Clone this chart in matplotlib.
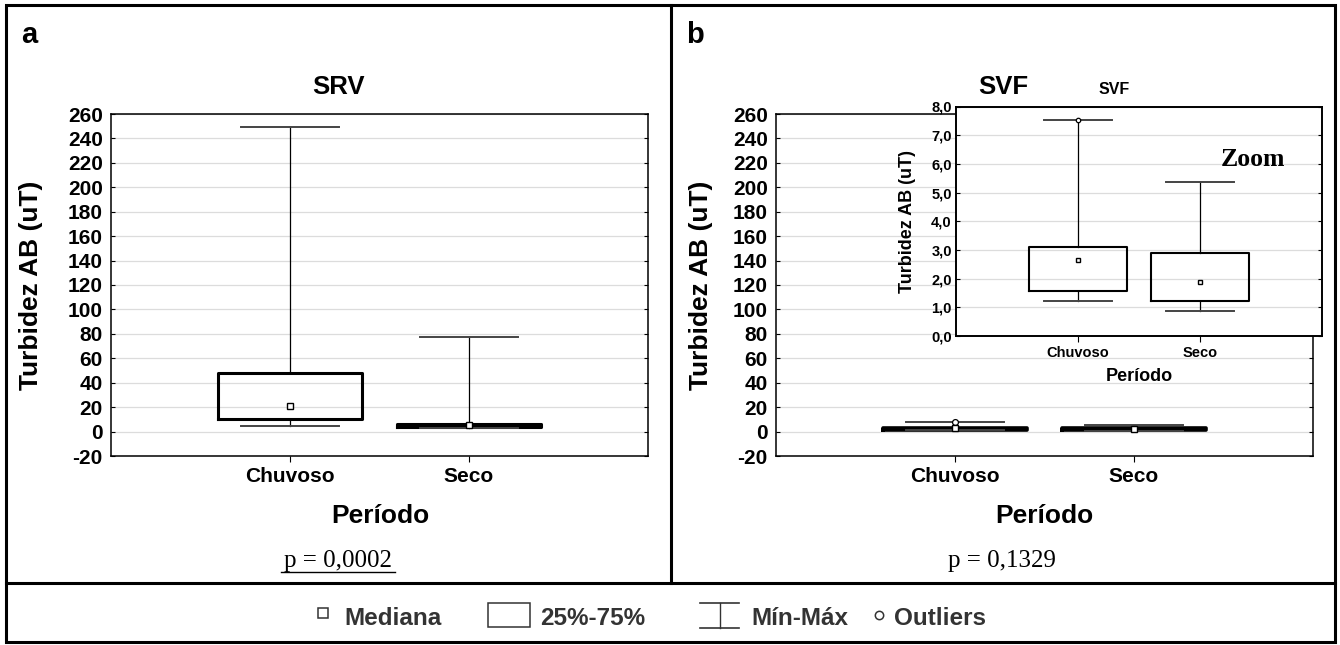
import numpy as np
import matplotlib
matplotlib.use("Agg")
import matplotlib.pyplot as plt
from matplotlib.lines import Line2D
from matplotlib.patches import Rectangle
from matplotlib.ticker import FuncFormatter, MultipleLocator

plt.rcParams["axes.unicode_minus"] = False

# --------------------------------------------------------------------------
# data
# --------------------------------------------------------------------------
categories = ["Chuvoso", "Seco"]

# (a) SRV
srv_min = [4.4, 3.0]
srv_q1 = [10.7, 3.8]
srv_med = [21.3, 5.4]
srv_q3 = [47.6, 6.6]
srv_max = [249.5, 77.7]
srv_out = [[], []]

# (b) SVF  (main panel and zoom inset show the same values)
svf_min = [1.23, 0.87]
svf_q1 = [1.56, 1.21]
svf_med = [2.65, 1.87]
svf_q3 = [3.09, 2.88]
svf_max = [7.53, 5.38]
svf_out = [[7.53], []]

main_yticks = list(range(-20, 261, 20))
p_values = ["p = 0,0002", "p = 0,1329"]

SANS = "Liberation Sans"
SERIF = "Liberation Serif"
W, H = 1340, 645


def rect(l, t, r, b):
    return [l / W, 1 - b / H, (r - l) / W, (b - t) / H]


def fx(x):
    return x / W


def fy(y):
    return 1 - y / H


def stats(mins, q1, med, q3, maxs, outs):
    return [dict(whislo=a, q1=b, med=c, mean=c, q3=d, whishi=e, fliers=f, label=lab)
            for a, b, c, d, e, f, lab in zip(mins, q1, med, q3, maxs, outs, categories)]


def draw_box(ax, st, box_lw, ms, cap_lw):
    ax.bxp(st, positions=[1, 2], widths=0.8, capwidths=0.55, showmeans=True,
           boxprops=dict(linewidth=box_lw, color="black"),
           whiskerprops=dict(linewidth=0.9, color="black"),
           capprops=dict(linewidth=cap_lw, color="#444444"),
           medianprops=dict(linewidth=0),
           meanprops=dict(marker="s", markerfacecolor="white", markeredgecolor="black",
                          markersize=ms, markeredgewidth=1.0),
           flierprops=dict(marker="o", markerfacecolor="white", markeredgecolor="black",
                           markersize=ms, markeredgewidth=0.9))
    ax.set_xlim(0, 3)


def style_axes(ax, tick_size, pad_y, pad_x, spine_lw):
    ax.grid(axis="y", color="#dcdcdc", linewidth=0.9)
    ax.set_axisbelow(True)
    for s in ax.spines.values():
        s.set_linewidth(spine_lw)
    ax.tick_params(axis="y", direction="in", left=True, right=True, length=3,
                   width=0.8, pad=pad_y, labelsize=tick_size)
    ax.tick_params(axis="x", direction="out", top=False, length=4, width=0.8,
                   pad=pad_x, labelsize=tick_size)
    for lab in ax.get_xticklabels() + ax.get_yticklabels():
        lab.set_fontweight("bold")
        lab.set_fontfamily(SANS)


fig = plt.figure(figsize=(W / 100, H / 100), dpi=100)

# ---------------- panel a ----------------
ax_a = fig.add_axes(rect(111, 114, 648, 456))
draw_box(ax_a, stats(srv_min, srv_q1, srv_med, srv_q3, srv_max, srv_out), 2.2, 4.2, 1.4)
ax_a.set_ylim(-20, 260)
ax_a.set_yticks(main_yticks)
style_axes(ax_a, 15, 6, 4, 1.1)
ax_a.set_ylabel("Turbidez AB (uT)", fontsize=19, fontweight="bold", family=SANS)
ax_a.yaxis.set_label_coords(-0.127, 0.5)

# ---------------- panel b ----------------
ax_b = fig.add_axes(rect(776, 114, 1313, 456))
draw_box(ax_b, stats(svf_min, svf_q1, svf_med, svf_q3, svf_max, svf_out), 2.6, 4.2, 1.4)
ax_b.set_ylim(-20, 260)
ax_b.set_yticks(main_yticks)
style_axes(ax_b, 15, 6, 4, 1.1)
ax_b.set_ylabel("Turbidez AB (uT)", fontsize=19, fontweight="bold", family=SANS)
ax_b.yaxis.set_label_coords(-0.117, 0.5)

# ---------------- zoom inset ----------------
ax_in = fig.add_axes(rect(956, 106.5, 1322, 336), zorder=5)
ax_in.set_facecolor("white")
draw_box(ax_in, stats(svf_min, svf_q1, svf_med, svf_q3, svf_max, svf_out), 1.5, 3.2, 1.4)
ax_in.set_ylim(0, 8)
ax_in.yaxis.set_major_locator(MultipleLocator(1))
ax_in.yaxis.set_major_formatter(FuncFormatter(lambda v, _: f"{v:.1f}".replace(".", ",")))
style_axes(ax_in, 10.5, 3, 3, 1.4)
ax_in.set_ylabel("Turbidez AB (uT)", fontsize=13, fontweight="bold", family=SANS)
ax_in.yaxis.set_label_coords(-0.109, 0.5)
ax_in.text(0.81, 0.77, "Zoom", transform=ax_in.transAxes, ha="center", va="center",
           fontsize=18.5, fontweight="bold", family=SERIF)

# ---------------- figure texts ----------------
fig.text(fx(21), fy(43), "a", fontsize=21, fontweight="bold", family=SANS, va="baseline")
fig.text(fx(686), fy(43), "b", fontsize=21, fontweight="bold", family=SANS, va="baseline")
fig.text(fx(338), fy(94), "SRV", fontsize=18.5, fontweight="bold", family=SANS,
         ha="center", va="baseline")
fig.text(fx(1003), fy(94), "SVF", fontsize=18.5, fontweight="bold", family=SANS,
         ha="center", va="baseline")
fig.text(fx(1114), fy(94), "SVF", fontsize=11.5, fontweight="bold", family=SANS,
         ha="center", va="baseline", zorder=6)
fig.text(fx(380), fy(523), "Período", fontsize=19, fontweight="bold", family=SANS,
         ha="center", va="baseline")
fig.text(fx(1044), fy(523), "Período", fontsize=19, fontweight="bold", family=SANS,
         ha="center", va="baseline")
fig.text(fx(1139), fy(381), "Período", fontsize=13, fontweight="bold", family=SANS,
         ha="center", va="baseline", zorder=6)
fig.text(fx(338), fy(567), p_values[0], fontsize=18, family=SERIF, ha="center", va="baseline")
fig.add_artist(Line2D([fx(281), fx(395)], [fy(572), fy(572)], color="black", lw=1.0))
fig.text(fx(1002), fy(567), p_values[1], fontsize=18, family=SERIF, ha="center", va="baseline")

# ---------------- frame ----------------
frame_kw = dict(color="black", lw=2.2, solid_capstyle="projecting")
fig.add_artist(Rectangle((fx(6), fy(642)), fx(1335) - fx(6), fy(5) - fy(642),
                         fill=False, edgecolor="black", lw=2.2))
fig.add_artist(Line2D([fx(6), fx(1335)], [fy(583), fy(583)], **frame_kw))
fig.add_artist(Line2D([fx(671), fx(671)], [fy(5), fy(583)], **frame_kw))

# ---------------- legend row ----------------
leg_color = "#333333"
leg_kw = dict(fontsize=17.5, fontweight="bold", family=SANS, color=leg_color, va="baseline")
fig.add_artist(Line2D([fx(323)], [fy(613)], marker="s", markersize=6.5,
                      markerfacecolor="white", markeredgecolor=leg_color, markeredgewidth=1.1))
fig.text(fx(344), fy(625), "Mediana", **leg_kw)
fig.add_artist(Rectangle((fx(488), fy(627)), fx(530) - fx(488), fy(603) - fy(627),
                         fill=False, edgecolor=leg_color, lw=1.1))
fig.text(fx(540), fy(625), "25%-75%", **leg_kw)
fig.add_artist(Line2D([fx(700), fx(739)], [fy(603), fy(603)], color=leg_color, lw=1.2))
fig.add_artist(Line2D([fx(700), fx(739)], [fy(628), fy(628)], color=leg_color, lw=1.2))
fig.add_artist(Line2D([fx(719.5), fx(719.5)], [fy(603), fy(628)], color=leg_color, lw=1.0))
fig.text(fx(751), fy(625), "Mín-Máx", **leg_kw)
fig.add_artist(Line2D([fx(879)], [fy(615)], marker="o", markersize=6,
                      markerfacecolor="white", markeredgecolor=leg_color, markeredgewidth=1.1))
fig.text(fx(894), fy(625), "Outliers", **leg_kw)

fig.savefig("out.png", dpi=100)
